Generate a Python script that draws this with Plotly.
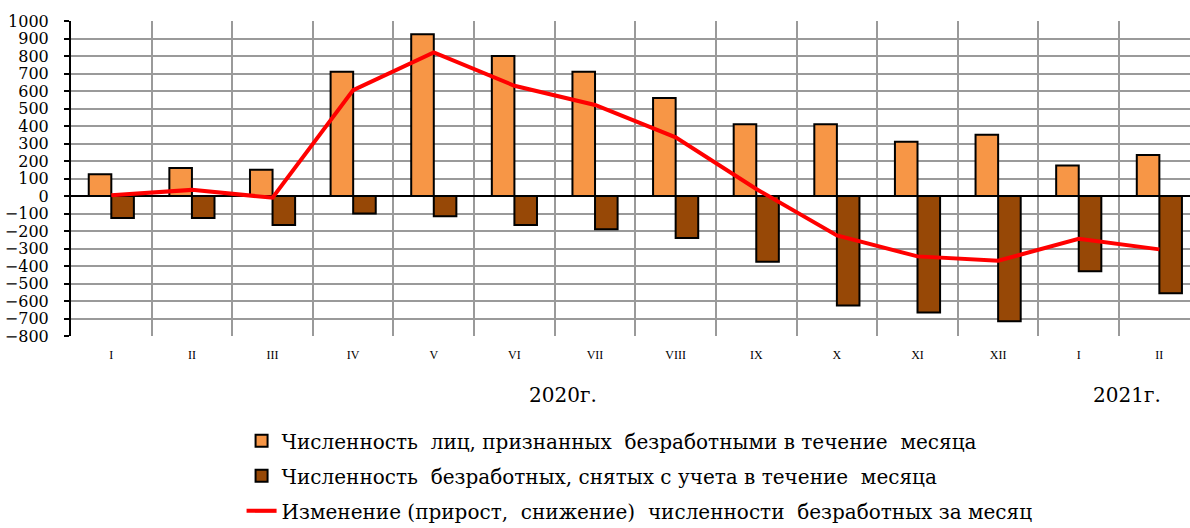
import plotly.graph_objects as go

months = ["I", "II", "III", "IV", "V", "VI", "VII", "VIII", "IX", "X", "XI", "XII", "I", "II"]
years = ["2020г.", "2021г."]
registered = [125, 160, 150, 710, 925, 800, 710, 560, 410, 410, 310, 350, 175, 235]
removed = [-125, -125, -165, -100, -115, -165, -190, -240, -375, -625, -665, -715, -430, -555]
change = [5, 35, -10, 605, 820, 630, 520, 335, 40, -225, -345, -370, -245, -305]

names = [
    "Численность  лиц, признанных  безработными в течение  месяца",
    "Численность  безработных, снятых с учета в течение  месяца",
    "Изменение (прирост,  снижение)  численности  безработных за месяц",
]

FONT = "DejaVu Serif"
x = list(range(len(months)))

fig = go.Figure()
fig.add_trace(go.Bar(x=x, y=registered, name=names[0], legendgroup="a",
                     marker=dict(color="#F79646", line=dict(color="black", width=2))))
fig.add_trace(go.Bar(x=x, y=removed, name=names[1], legendgroup="b",
                     marker=dict(color="#974806", line=dict(color="black", width=2))))
fig.add_trace(go.Scatter(x=x, y=change, name=names[2], legendgroup="c", mode="lines",
                         line=dict(color="#FF0000", width=4)))

fig.update_layout(
    width=1190, height=528,
    margin=dict(l=71, r=0, t=21, b=192, autoexpand=False),
    plot_bgcolor="white", paper_bgcolor="white",
    font=dict(family=FONT, color="black"),
    barmode="group", bargap=0.44, bargroupgap=0,
    legend=dict(orientation="v", xref="container", yref="container",
                x=0.203, xanchor="left", y=0.202, yanchor="top",
                font=dict(size=20, family=FONT), tracegroupgap=6, bgcolor="rgba(0,0,0,0)"),
    xaxis=dict(range=[-0.5, 13.38], tickmode="array", tickvals=x, ticktext=months,
               showgrid=False, zeroline=False, showline=False, ticks="", automargin=False,
               tickfont=dict(size=12, family="serif"), ticklabelstandoff=10,
               minor=dict(tickmode="array", tickvals=[k - 0.5 for k in range(15)],
                          showgrid=True, gridcolor="#9a9a9a", gridwidth=2, ticks="")),
    yaxis=dict(range=[-800, 1000], tickmode="linear", tick0=-800, dtick=100, automargin=False,
               showgrid=True, gridcolor="#9a9a9a", gridwidth=2,
               zeroline=True, zerolinecolor="black", zerolinewidth=2,
               showline=True, linecolor="black", linewidth=2,
               ticks="outside", ticklen=5, tickwidth=2, tickcolor="black",
               tickfont=dict(size=16, family=FONT), ticklabelstandoff=12),
)

fig.add_annotation(text=years[0], x=5.6, xref="x", y=-0.143, yref="paper",
                   showarrow=False, font=dict(size=20, family=FONT), yanchor="top")
fig.add_annotation(text=years[1], x=12.6, xref="x", y=-0.143, yref="paper",
                   showarrow=False, font=dict(size=20, family=FONT), yanchor="top")

fig.write_html("out.html", config={"displayModeBar": False},
               post_script="document.body.style.margin='0px';document.body.style.overflow='hidden';")
